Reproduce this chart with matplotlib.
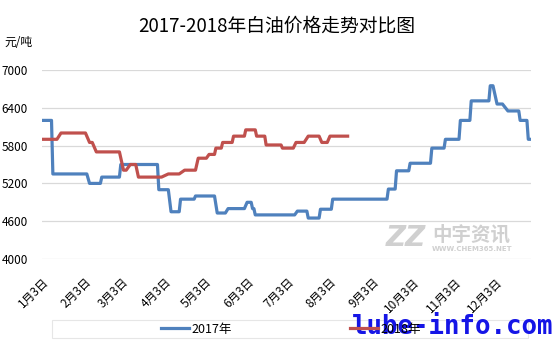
import pandas as pd
import matplotlib.pyplot as plt
from matplotlib.patches import Rectangle

plt.rcParams['font.family'] = ['Noto Sans CJK SC', 'DejaVu Sans']

# 2017 white oil price (yuan/ton), breakpoints of the step line
dates_2017 = ["01-03", "01-10", "01-11", "02-05", "02-07", "02-15", "02-16", "03-01",
              "03-02", "03-29", "03-30", "04-06", "04-08", "04-14", "04-15", "04-25",
              "04-26", "05-10", "05-12", "05-18", "05-20", "06-01", "06-03", "06-06",
              "06-07", "06-08", "06-09", "07-08", "07-10", "07-17", "07-18", "07-26",
              "07-27", "08-04", "08-05", "09-14", "09-15", "09-20", "09-21", "09-30",
              "10-01", "10-16", "10-17", "10-26", "10-27", "11-06", "11-07", "11-14",
              "11-15", "11-28", "11-29", "12-01", "12-04", "12-08", "12-12", "12-20",
              "12-21", "12-26", "12-27", "12-29"]
price_2017 = [6200, 6200, 5350, 5350, 5200, 5200, 5300, 5300,
              5500, 5500, 5100, 5100, 4750, 4750, 4950, 4950,
              5000, 5000, 4730, 4730, 4800, 4800, 4900, 4900,
              4800, 4800, 4700, 4700, 4760, 4760, 4650, 4650,
              4790, 4790, 4950, 4950, 5110, 5110, 5400, 5400,
              5520, 5520, 5760, 5760, 5900, 5900, 6200, 6200,
              6510, 6510, 6750, 6750, 6460, 6460, 6350, 6350,
              6200, 6200, 5900, 5900]

# 2018 white oil price (yuan/ton)
dates_2018 = ["01-03", "01-14", "01-17", "02-04", "02-07", "02-09", "02-12", "03-01",
              "03-04", "03-06", "03-09", "03-13", "03-15", "04-01", "04-06", "04-14",
              "04-18", "04-26", "04-28", "05-04", "05-06", "05-10", "05-11", "05-15",
              "05-16", "05-23", "05-24", "06-01", "06-02", "06-09", "06-10", "06-16",
              "06-17", "06-28", "06-29", "07-07", "07-09", "07-15", "07-18", "07-26",
              "07-28", "08-01", "08-03", "08-16"]
price_2018 = [5900, 5900, 6000, 6000, 5850, 5850, 5700, 5700,
              5410, 5410, 5500, 5500, 5300, 5300, 5350, 5350,
              5410, 5410, 5600, 5600, 5660, 5660, 5760, 5760,
              5850, 5850, 5950, 5950, 6050, 6050, 5950, 5950,
              5810, 5810, 5760, 5760, 5850, 5850, 5950, 5950,
              5850, 5850, 5950, 5950]

tick_labels = [f"{m}月3日" for m in range(1, 13)]
y_ticks = [4000, 4600, 5200, 5800, 6400, 7000]

x17 = pd.to_datetime(["2017-" + d for d in dates_2017])
x18 = pd.to_datetime(["2017-" + d for d in dates_2018])  # same day-of-year axis
tick_pos = pd.to_datetime([f"2017-{m:02d}-03" for m in range(1, 13)])

fig = plt.figure(figsize=(5.54, 3.48), dpi=100)
ax = fig.add_axes([42/554, 1-259/348, 489/554, 189/348])

blue = "#4F81BD"
red = "#C0504D"
l1, = ax.plot(x17, price_2017, color=blue, lw=2.3, label="2017年", solid_joinstyle="round")
l2, = ax.plot(x18, price_2018, color=red, lw=2.3, label="2018年", solid_joinstyle="round")

ax.set_ylim(4000, 7000)
ax.set_yticks(y_ticks)
ax.set_xlim(pd.Timestamp("2017-01-03"), pd.Timestamp("2017-12-29"))
ax.set_xticks(tick_pos)
ax.set_xticklabels(tick_labels, rotation=45, ha="right", va="top", rotation_mode="anchor")
ax.tick_params(axis="both", length=0)
ax.tick_params(axis="x", pad=12, labelsize=8.5)
ax.tick_params(axis="y", pad=10, labelsize=8.5)
ax.grid(axis="y", color="#d9d9d9", lw=0.9)
ax.set_axisbelow(True)
for s in ax.spines.values():
    s.set_visible(False)

fig.text(0.5, 1-26/348, "2017-2018年白油价格走势对比图", ha="center", va="center", fontsize=13.5)
fig.text(4/554, 1-43/348, "元/吨", ha="left", va="center", fontsize=8.5)

# legend box
fig.patches.append(Rectangle((52/554, 1-338/348), 476/554, 18/348, transform=fig.transFigure,
                             facecolor="white", edgecolor="#e6e6e6", lw=0.8))
fig.legend(handles=[l1, l2], loc="center", bbox_to_anchor=(0.525, 1-329/348), ncol=2,
           frameon=False, fontsize=9, columnspacing=9.5, handlelength=2.2, handletextpad=0.2)

# watermarks
fig.text(386/554, 1-238/348, "ZZ", fontsize=20, fontweight="bold", style="italic",
         color="#d0d0d0", ha="left", va="center", family="DejaVu Sans")
fig.text(432/554, 1-235/348, "中宇资讯", fontsize=14, fontweight="bold", color="#d0d0d0",
         ha="left", va="center")
fig.text(432/554, 1-249/348, "WWW.CHEM365.NET", fontsize=5, fontweight="bold", color="#d0d0d0",
         ha="left", va="center", family="DejaVu Sans")
fig.text(553/554, 1-327/348, "lube-info.com", fontsize=18.5, fontweight="bold", color="#1515e6",
         ha="right", va="center", family="DejaVu Sans Mono")

fig.savefig("out.png", dpi=100)
